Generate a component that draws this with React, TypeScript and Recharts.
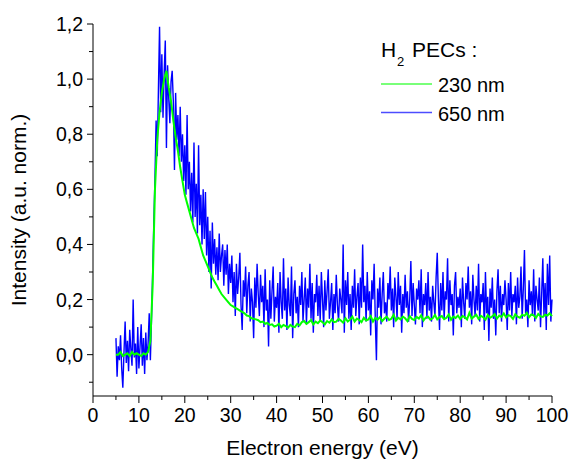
import React from 'react';
import { LineChart, Line, XAxis, YAxis, Legend } from 'recharts';

// Electron energy grids (eV): start and step of each recorded spectrum
const BLUE_START = 5;
const BLUE_STEP = 0.25;
const GREEN_START = 5;
const GREEN_STEP = 0.5;

// 650 nm PEC, normalized intensity (one row per eV: .00 .25 .50 .75)
const INTENSITY_650 = [
  0.06, -0.08, 0.03, -0.02,
  0.07, -0.05, -0.12, 0.01,
  0.12, -0.03, 0.05, -0.06,
  0.09, 0.02, -0.04, 0.2,
  -0.01, 0.04, -0.07, 0.1,
  -0.05, 0.03, 0.11, -0.04,
  0.06, -0.07, 0.08, -0.02,
  0.04, 0.15, -0.02, 0.13,
  0.3, 0.48, 0.64, 0.85,
  0.72, 0.96, 1.19, 0.88,
  1.09, 0.86, 1.02, 1.14,
  0.75, 1.05, 0.93, 0.84,
  0.99, 1.03, 0.92, 0.67,
  0.95, 0.78, 0.87, 0.72,
  0.9, 0.7, 0.8, 0.63,
  0.76, 0.58, 0.87, 0.6,
  0.7, 0.52, 0.66, 0.48,
  0.77, 0.5, 0.62, 0.44,
  0.76, 0.47, 0.58, 0.4,
  0.6, 0.42, 0.59, 0.36,
  0.5, 0.3, 0.45, 0.24,
  0.48, 0.33, 0.42, 0.29,
  0.39, 0.27, 0.44, 0.3,
  0.36, 0.4, 0.25, 0.38,
  0.29, 0.4, 0.22, 0.33,
  0.26, 0.36, 0.19, 0.3,
  0.14, 0.33, 0.22, 0.28,
  0.37, 0.18, 0.09, 0.27,
  0.21, 0.32, 0.15, 0.25,
  0.3, 0.12, 0.24, 0.19,
  0.06, 0.28, 0.17, 0.33,
  0.22, 0.14, 0.29, 0.19,
  0.25, 0.1, 0.31, 0.16,
  0.2, 0.03, 0.27, 0.13,
  0.23, 0.32, 0.12, 0.21,
  0.17, 0.26, 0.08, 0.3,
  0.19, 0.13, 0.35, 0.16,
  0.24, 0.09, 0.28, 0.18,
  0.14, 0.32, 0.06, 0.22,
  0.27, 0.15, 0.21, 0.1,
  0.25, 0.18, 0.3, 0.12,
  0.2, 0.28, 0.11, 0.24,
  0.17, 0.33, 0.13, 0.26,
  0.08, 0.22, 0.19, 0.29,
  0.14, 0.25, 0.12, 0.3,
  0.2, 0.1, 0.27, 0.16,
  0.23, 0.31, 0.13, 0.19,
  0.26, 0.09, 0.22, 0.15,
  0.29, 0.18, 0.12, 0.24,
  0.2, 0.15, 0.4, 0.08,
  0.27, 0.18, 0.3, 0.13,
  0.22, 0.09, 0.25, 0.17,
  0.31, 0.14, 0.21, 0.26,
  0.11, 0.28, 0.17, 0.4,
  0.19, 0.25, 0.12, 0.3,
  0.16, 0.23, 0.07, 0.27,
  0.2, 0.33, 0.13, -0.02,
  0.24, 0.17, 0.28, 0.11,
  0.22, 0.3, 0.15, 0.19,
  0.12, 0.26, 0.2, 0.32,
  0.16, 0.24, 0.1, 0.28,
  0.21, 0.13, 0.3, 0.18,
  0.25, 0.08, 0.22, 0.15,
  0.29, 0.17, 0.23, 0.12,
  0.2, 0.34, 0.14, 0.26,
  0.18, 0.11, 0.24, 0.2,
  0.27, 0.15, 0.31, 0.1,
  0.22, 0.18, 0.26, 0.13,
  0.3, 0.16, 0.21, 0.12,
  0.25, 0.19, 0.14, 0.28,
  0.37, 0.2, 0.09, 0.26,
  0.16, 0.3, 0.13, 0.23,
  0.2, 0.35, 0.12, 0.27,
  0.18, 0.22, 0.07, 0.25,
  0.3, 0.15, 0.21, 0.17,
  0.24, 0.1, 0.28, 0.19,
  0.13, 0.26, 0.2, 0.32,
  0.17, 0.23, 0.11, 0.29,
  0.2, 0.14, 0.25, 0.16,
  0.33, 0.12, 0.22, 0.19,
  0.26, 0.09, 0.3, 0.15,
  0.21, 0.05, 0.24, 0.17,
  0.28, 0.13, 0.2, 0.07,
  0.23, 0.31, 0.15, 0.25,
  0.12, 0.22, 0.18, 0.27,
  0.2, 0.09, 0.26, 0.16,
  0.3, 0.14, 0.22, 0.19,
  0.25, 0.11, 0.28, 0.17,
  0.21, 0.32, 0.13, 0.24,
  0.38, 0.15, 0.2, 0.1,
  0.27, 0.18, 0.23, 0.14,
  0.31, 0.12, 0.25, 0.2,
  0.16, 0.28, 0.1, 0.22,
  0.35, 0.14, 0.26, 0.09,
  0.33, 0.18, 0.36, 0.12,
  0.2,
];

// 230 nm PEC, normalized intensity (one row per eV: .0 .5)
const INTENSITY_230 = [
  0.0, 0.0,
  0.01, -0.005,
  0.0, 0.005,
  -0.005, 0.01,
  0.0, 0.005,
  0.0, -0.005,
  0.005, 0.0,
  0.01, 0.05,
  0.25, 0.6,
  0.78, 0.88,
  0.95, 1.0,
  1.03, 0.97,
  0.92, 0.85,
  0.79, 0.74,
  0.68, 0.63,
  0.58, 0.55,
  0.52, 0.49,
  0.46, 0.44,
  0.42, 0.39,
  0.36, 0.34,
  0.32, 0.3,
  0.28, 0.265,
  0.25, 0.235,
  0.22, 0.21,
  0.2, 0.19,
  0.18, 0.175,
  0.17, 0.165,
  0.16, 0.155,
  0.15, 0.142,
  0.14, 0.132,
  0.13, 0.128,
  0.125, 0.118,
  0.12, 0.112,
  0.115, 0.108,
  0.11, 0.102,
  0.105, 0.112,
  0.1, 0.108,
  0.104, 0.098,
  0.108, 0.102,
  0.1, 0.112,
  0.106, 0.118,
  0.122, 0.112,
  0.118, 0.126,
  0.11, 0.12,
  0.114, 0.124,
  0.118, 0.11,
  0.122, 0.116,
  0.128, 0.118,
  0.12, 0.13,
  0.124, 0.116,
  0.132, 0.12,
  0.127, 0.138,
  0.12, 0.131,
  0.126, 0.118,
  0.134, 0.124,
  0.128, 0.14,
  0.12, 0.133,
  0.127, 0.136,
  0.122, 0.131,
  0.138, 0.126,
  0.13, 0.145,
  0.124, 0.134,
  0.128, 0.138,
  0.132, 0.122,
  0.14, 0.13,
  0.126, 0.137,
  0.131, 0.143,
  0.124, 0.135,
  0.138, 0.127,
  0.132, 0.144,
  0.128, 0.136,
  0.14, 0.129,
  0.134, 0.146,
  0.127, 0.138,
  0.133, 0.142,
  0.129, 0.14,
  0.136, 0.128,
  0.152, 0.131,
  0.138, 0.145,
  0.13, 0.141,
  0.136, 0.127,
  0.144, 0.134,
  0.139, 0.148,
  0.131, 0.142,
  0.137, 0.15,
  0.135, 0.143,
  0.14, 0.13,
  0.147, 0.138,
  0.134, 0.145,
  0.141, 0.152,
  0.136, 0.146,
  0.143, 0.133,
  0.148, 0.139,
  0.137, 0.145,
  0.142, 0.15,
  0.14,
];

const X_TICKS = [0, 5, 10, 15, 20, 25, 30, 35, 40, 45, 50, 55, 60, 65, 70, 75, 80, 85, 90, 95, 100];
const Y_TICKS = [-0.1, 0, 0.1, 0.2, 0.3, 0.4, 0.5, 0.6, 0.7, 0.8, 0.9, 1.0, 1.1, 1.2];

const SERIES_NAMES = ['230 nm', '650 nm'];
const SERIES_COLORS = ['#00ff00', '#0000ff'];

const data650 = INTENSITY_650.map((v, i) => ({ x: BLUE_START + i * BLUE_STEP, y: v }));
const data230 = INTENSITY_230.map((v, i) => ({ x: GREEN_START + i * GREEN_STEP, y: v }));

const FONT = '"Liberation Sans", Arial, sans-serif';

const XTick = (props: any) => {
  const { x, y, payload } = props;
  const v = payload.value;
  const major = Math.round(v) % 10 === 0;
  return (
    <g>
      <line x1={x} y1={y} x2={x} y2={y + (major ? 7 : 4)} stroke="#000" strokeWidth={1} />
      {major && (
        <text x={x} y={y + 26} textAnchor="middle" fontFamily={FONT} fontSize={19.5} fill="#000">
          {String(v)}
        </text>
      )}
    </g>
  );
};

const YTick = (props: any) => {
  const { x, y, payload } = props;
  const v = payload.value;
  const major = Math.round(v * 10) % 2 === 0;
  return (
    <g>
      <line x1={x - (major ? 6 : 4)} y1={y} x2={x} y2={y} stroke="#000" strokeWidth={1} />
      {major && (
        <text x={x - 10} y={y + 7} textAnchor="end" fontFamily={FONT} fontSize={19.5} fill="#000">
          {v.toFixed(1).replace('.', ',')}
        </text>
      )}
    </g>
  );
};

const LegendBox = (props: any) => {
  const payload = (props.payload || []).slice().sort((a: any, b: any) =>
    String(a.value).localeCompare(String(b.value))
  );
  return (
    <svg width={200} height={110} style={{ display: 'block', overflow: 'visible' }}>
      <text x={11} y={37} fontFamily={FONT} fontSize={21} fill="#000">H</text>
      <text x={27} y={46} fontFamily={FONT} fontSize={13} fill="#000">2</text>
      <text x={42} y={37} fontFamily={FONT} fontSize={21} fill="#000">PECs :</text>
      {payload.map((entry: any, i: number) => (
        <g key={entry.value}>
          <line x1={11} y1={64 + i * 28.5} x2={62} y2={64 + i * 28.5} stroke={entry.color} strokeWidth={1.5} strokeOpacity={0.7} />
          <text x={68} y={72 + i * 28.5} fontFamily={FONT} fontSize={20} fill="#000">{entry.value}</text>
        </g>
      ))}
    </svg>
  );
};

export default function App() {
  return (
    <div style={{ position: 'absolute', left: 0, top: 0, width: 570, height: 462, background: '#fff' }}>
      <LineChart width={570} height={462} margin={{ top: 24, right: 18, bottom: 0, left: 0 }}>
        <XAxis
          type="number"
          dataKey="x"
          domain={[0, 100]}
          ticks={X_TICKS}
          interval={0}
          tickSize={0}
          tickMargin={0}
          tickLine={false}
          tick={<XTick />}
          height={66}
          axisLine={{ stroke: '#000', strokeWidth: 1 }}
          label={{ value: 'Electron energy (eV)', position: 'insideBottom', offset: 7, fontFamily: FONT, fontSize: 21, fill: '#000' }}
        />
        <YAxis
          type="number"
          domain={[-0.15, 1.2]}
          ticks={Y_TICKS}
          interval={0}
          tickSize={0}
          tickMargin={0}
          tickLine={false}
          tick={<YTick />}
          width={93}
          axisLine={{ stroke: '#000', strokeWidth: 1 }}
          allowDataOverflow
          label={{ value: 'Intensity (a.u. norm.)', angle: -90, position: 'insideLeft', offset: 19, style: { textAnchor: 'middle' }, fontFamily: FONT, fontSize: 21, fill: '#000' }}
        />
        <Legend
          content={<LegendBox />}
          wrapperStyle={{ position: 'absolute', left: 370, top: 20, width: 0, height: 0, overflow: 'visible' }}
        />
        <Line
          data={data650}
          dataKey="y"
          name={SERIES_NAMES[1]}
          stroke={SERIES_COLORS[1]}
          strokeWidth={1.4}
          dot={false}
          activeDot={false}
          type="linear"
          isAnimationActive={false}
        />
        <Line
          data={data230}
          dataKey="y"
          name={SERIES_NAMES[0]}
          stroke={SERIES_COLORS[0]}
          strokeWidth={2}
          dot={false}
          activeDot={false}
          type="linear"
          isAnimationActive={false}
        />
      </LineChart>
    </div>
  );
}
